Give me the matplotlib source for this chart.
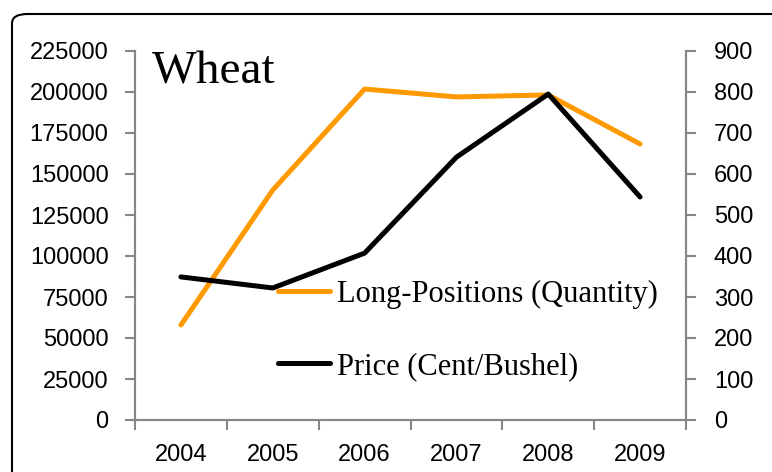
import numpy as np
import matplotlib.pyplot as plt
from matplotlib.patches import FancyBboxPatch
from matplotlib.ticker import FixedLocator

# ---------- data ----------
years = ['2004', '2005', '2006', '2007', '2008', '2009']
long_positions = [57900, 140200, 201800, 197000, 198200, 168300]
price = [349, 322, 407, 641, 795, 544]

ORANGE = '#FF9900'
GREY = '#868686'
SERIF = ['Liberation Serif', 'DejaVu Serif']
SANS = ['Liberation Sans', 'DejaVu Sans']

plt.rcParams['font.family'] = SANS

fig = plt.figure(figsize=(7.72, 4.72), dpi=100)

# rounded outer frame (runs off right/bottom edge)
frame = FancyBboxPatch((12 / 772, -20 / 472), 800 / 772, 478 / 472,
                       boxstyle='round,pad=0,rounding_size=0.02',
                       transform=fig.transFigure, fc='white', ec='black',
                       lw=1.5, zorder=-5)
fig.patches.append(frame)

ax = fig.add_axes([135 / 772, 52 / 472, 551 / 772, 369 / 472])
ax.patch.set_alpha(0)
ax2 = ax.twinx()

x = np.arange(len(years))
l1, = ax.plot(x, long_positions, color=ORANGE, lw=3.6,
              solid_capstyle='round', label='Long-Positions (Quantity)')
l2, = ax2.plot(x, price, color='black', lw=3.6,
               solid_capstyle='round', label='Price (Cent/Bushel)')

ax.set_xlim(-0.5, len(years) - 0.5)
ax.set_ylim(0, 225000)
ax.set_yticks(np.arange(0, 225001, 25000))
ax2.set_ylim(0, 900)
ax2.set_yticks(np.arange(0, 901, 100))

ax.set_xticks(x)
ax.set_xticklabels(years)
ax.xaxis.set_minor_locator(FixedLocator(np.arange(-0.5, len(years), 1.0)))
ax.tick_params(axis='x', which='major', length=0, pad=17, labelsize=17)
ax.tick_params(axis='x', which='minor', length=7, width=1.5, color=GREY,
               direction='out')
ax.tick_params(axis='y', length=7, width=1.5, color=GREY, pad=12,
               labelsize=17, direction='out')
ax2.tick_params(axis='y', length=7, width=1.5, color=GREY, pad=13,
                labelsize=17, direction='out')

for a in (ax, ax2):
    a.spines['top'].set_visible(False)
    for s in ('left', 'right', 'bottom'):
        a.spines[s].set_color(GREY)
        a.spines[s].set_linewidth(1.5)

fig.text(152 / 772, (472 - 83) / 472, 'Wheat', family=SERIF, fontsize=34,
         ha='left', va='baseline')

leg = ax2.legend(handles=[l1, l2], loc='upper left',
                 bbox_to_anchor=(278 / 772, (472 - 280) / 472),
                 bbox_transform=fig.transFigure, frameon=False,
                 prop={'family': SERIF, 'size': 22},
                 handlelength=1.7, handletextpad=0.23, labelspacing=1.4,
                 borderpad=0, borderaxespad=0)

fig.savefig('out.png', dpi=100)
